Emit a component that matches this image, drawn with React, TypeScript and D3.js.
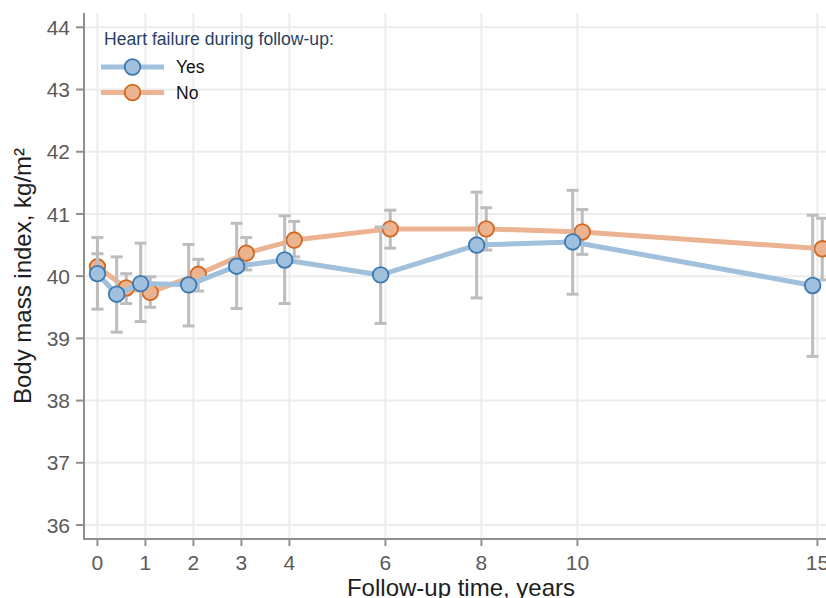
import * as d3 from 'd3'
import React from 'react'

// follow-up time (years), dodged per group
const yesTime = [0, 0.4, 0.9, 1.9, 2.9, 3.9, 5.9, 7.9, 9.9, 14.9]
const noTime = [0, 0.6, 1.1, 2.1, 3.1, 4.1, 6.1, 8.1, 10.1, 15.1]

// mean BMI and 95% CI
const yesMean = [40.04, 39.71, 39.88, 39.86, 40.16, 40.26, 40.02, 40.5, 40.55, 39.85]
const yesLow = [39.47, 39.1, 39.27, 39.2, 39.48, 39.56, 39.24, 39.65, 39.71, 38.71]
const yesHigh = [40.62, 40.31, 40.53, 40.51, 40.85, 40.97, 40.79, 41.35, 41.38, 40.98]

const noMean = [40.15, 39.81, 39.74, 40.03, 40.37, 40.58, 40.76, 40.76, 40.71, 40.44]
const noLow = [39.95, 39.56, 39.5, 39.76, 40.1, 40.31, 40.45, 40.42, 40.35, 39.94]
const noHigh = [40.36, 40.04, 39.99, 40.27, 40.62, 40.88, 41.06, 41.1, 41.07, 40.93]

const xTicks = [0, 1, 2, 3, 4, 6, 8, 10, 15]
const yTicks = [36, 37, 38, 39, 40, 41, 42, 43, 44]

const font = '"Liberation Sans", Arial, Helvetica, sans-serif'

const series = [
  { name: 'No', t: noTime, m: noMean, lo: noLow, hi: noHigh, line: '#ebb391', fill: '#ecb38f', stroke: '#d4671f' },
  { name: 'Yes', t: yesTime, m: yesMean, lo: yesLow, hi: yesHigh, line: '#a0c0dc', fill: '#a0c0de', stroke: '#3b79b2' },
]

export default function App() {
  const width = 826
  const height = 598

  const x = d3.scaleLinear().domain([-0.28, 15.3]).range([84, 84 + 15.58 * 48])
  const y = d3.scaleLinear().domain([35.775, 44.23]).range([539, 13])
  const [x0, x1] = x.range()
  const [yb, yt] = y.range()

  const line = d3.line<number>()

  return (
    <svg width={width} height={height} style={{ position: 'absolute', left: 0, top: 0 }} fontFamily={font}>
      <rect width={width} height={height} fill="#fff" />
      {/* grid */}
      {xTicks.map(t => (
        <line key={'gx' + t} x1={x(t)} x2={x(t)} y1={yt} y2={yb} stroke="#ececec" strokeWidth={2} />
      ))}
      {yTicks.map(t => (
        <line key={'gy' + t} x1={x0} x2={x1} y1={y(t)} y2={y(t)} stroke="#ececec" strokeWidth={2} />
      ))}

      {series.map(s => (
        <g key={s.name}>
          {s.t.map((t, i) => (
            <g key={i} stroke="#bdbdbd" strokeWidth={3}>
              <line x1={x(t)} x2={x(t)} y1={y(s.lo[i])} y2={y(s.hi[i])} />
              <line x1={x(t) - 6} x2={x(t) + 6} y1={y(s.lo[i])} y2={y(s.lo[i])} />
              <line x1={x(t) - 6} x2={x(t) + 6} y1={y(s.hi[i])} y2={y(s.hi[i])} />
            </g>
          ))}
          <path
            d={line(s.t.map((t, i) => [x(t), y(s.m[i])]) as any) || ''}
            fill="none"
            stroke={s.line}
            strokeWidth={5}
            strokeLinejoin="round"
          />
          {s.t.map((t, i) => (
            <circle key={i} cx={x(t)} cy={y(s.m[i])} r={7.8} fill={s.fill} stroke={s.stroke} strokeWidth={1.8} />
          ))}
        </g>
      ))}

      {/* axes */}
      <line x1={x0} x2={x0} y1={yt} y2={yb + 1} stroke="#8f8f8f" strokeWidth={2} />
      <line x1={x0 - 1} x2={x1} y1={yb} y2={yb} stroke="#8f8f8f" strokeWidth={2} />
      {yTicks.map(t => (
        <g key={'ty' + t}>
          <line x1={x0 - 8} x2={x0} y1={y(t)} y2={y(t)} stroke="#8f8f8f" strokeWidth={2} />
          <text x={x0 - 14} y={y(t)} dy="0.36em" textAnchor="end" fontSize={21} fill="#5a5a5a">
            {t}
          </text>
        </g>
      ))}
      {xTicks.map(t => (
        <g key={'tx' + t}>
          <line x1={x(t)} x2={x(t)} y1={yb} y2={yb + 7} stroke="#8f8f8f" strokeWidth={2} />
          <text x={x(t)} y={570} textAnchor="middle" fontSize={21} fill="#5a5a5a">
            {t}
          </text>
        </g>
      ))}

      <text x={461} y={596} textAnchor="middle" fontSize={24} fill="#1e1e1e">
        Follow-up time, years
      </text>
      <text transform="translate(31,276) rotate(-90)" textAnchor="middle" fontSize={24} fill="#1e1e1e">
        Body mass index, kg/m²
      </text>

      {/* legend */}
      <text x={104} y={45} fontSize={17.6} fill="#2a3f5f">
        Heart failure during follow-up:
      </text>
      {[series[1], series[0]].map((s, i) => {
        const ly = 67 + i * 25.5
        return (
          <g key={'lg' + s.name}>
            <line x1={101} x2={164} y1={ly} y2={ly} stroke={s.line} strokeWidth={5} />
            <circle cx={132.5} cy={ly} r={7.8} fill={s.fill} stroke={s.stroke} strokeWidth={1.8} />
            <text x={176} y={ly} dy="0.36em" fontSize={17.5} fill="#111">
              {s.name}
            </text>
          </g>
        )
      })}
    </svg>
  )
}
